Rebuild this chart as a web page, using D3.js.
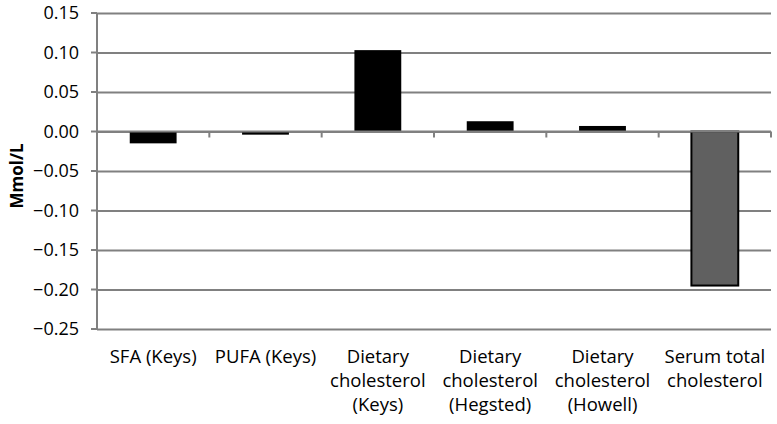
<!DOCTYPE html>
<html>
<head>
<meta charset="utf-8">
<script src="https://cdn.jsdelivr.net/npm/d3@7"></script>
<style>
  body { margin: 0; background: #fff; }
  text { font-family: "Open Sans", sans-serif; fill: #000; }
  .grid line { stroke: #808080; stroke-width: 2; }
  .grid .domain { display: none; }
</style>
</head>
<body>
<div id="chart-container"></div>
<script>
// data
const categories = [
    ["SFA (Keys)"],
    ["PUFA (Keys)"],
    ["Dietary", "cholesterol", "(Keys)"],
    ["Dietary", "cholesterol", "(Hegsted)"],
    ["Dietary", "cholesterol", "(Howell)"],
    ["Serum total", "cholesterol"]
];
const values = [-0.015, -0.004, 0.103, 0.013, 0.007, -0.195];
const barColors = ["#000", "#000", "#000", "#000", "#000", "#606060"];
const yTicks = [0.15, 0.10, 0.05, 0.00, -0.05, -0.10, -0.15, -0.20, -0.25];

const width = 777, height = 424;
const plotLeft = 97, plotRight = 771, plotTop = 13, plotBottom = 329;

const svg = d3.select("#chart-container")
    .append("svg")
    .attr("width", width)
    .attr("height", height);

const xAxis = d3.scaleBand()
    .range([plotLeft, plotRight])
    .domain(d3.range(categories.length))
    .paddingInner(0.583)
    .paddingOuter(0.2915);

const band = d3.scaleBand()   // full category slots, for tick marks
    .range([plotLeft, plotRight])
    .domain(d3.range(categories.length));

const yAxis = d3.scaleLinear()
    .range([plotBottom, plotTop])
    .domain([-0.25, 0.15]);

// horizontal grid lines
svg.append("g")
    .attr("class", "grid")
    .attr("transform", `translate(${plotLeft}, 0)`)
    .call(d3.axisLeft(yAxis)
        .tickValues(yTicks)
        .tickSize(-(plotRight - plotLeft))
        .tickFormat(""));

// y tick marks
svg.append("g")
    .selectAll("line")
    .data(yTicks)
    .enter()
    .append("line")
    .attr("x1", plotLeft - 6)
    .attr("x2", plotLeft)
    .attr("y1", d => yAxis(d))
    .attr("y2", d => yAxis(d))
    .attr("stroke", "#808080")
    .attr("stroke-width", 2);

// y tick labels
svg.append("g")
    .selectAll("text")
    .data(yTicks)
    .enter()
    .append("text")
    .attr("x", 79)
    .attr("y", d => yAxis(d))
    .attr("dy", "0.35em")
    .attr("text-anchor", "end")
    .style("font-size", "18px")
    .text(d => d3.format(".2f")(d));

// y axis line
svg.append("line")
    .attr("x1", plotLeft).attr("x2", plotLeft)
    .attr("y1", plotTop).attr("y2", plotBottom)
    .attr("stroke", "#808080")
    .attr("stroke-width", 2);

// bars
svg.selectAll(".bar")
    .data(values)
    .enter()
    .append("rect")
    .attr("class", "bar")
    .attr("x", (d, i) => xAxis(i))
    .attr("y", d => yAxis(Math.max(0, d)))
    .attr("width", xAxis.bandwidth())
    .attr("height", d => Math.abs(yAxis(d) - yAxis(0)))
    .attr("fill", (d, i) => barColors[i])
    .attr("stroke", "#000")
    .attr("stroke-width", (d, i) => i === 5 ? 2 : 0);

// zero axis line with category tick marks
const zeroY = yAxis(0);
svg.append("line")
    .attr("x1", plotLeft).attr("x2", plotRight)
    .attr("y1", zeroY).attr("y2", zeroY)
    .attr("stroke", "#808080")
    .attr("stroke-width", 2);

svg.append("g")
    .selectAll("line")
    .data(d3.range(1, categories.length + 1))
    .enter()
    .append("line")
    .attr("x1", i => i === categories.length ? plotRight : band(i))
    .attr("x2", i => i === categories.length ? plotRight : band(i))
    .attr("y1", zeroY)
    .attr("y2", zeroY + 6)
    .attr("stroke", "#808080")
    .attr("stroke-width", 2);

// category labels
const labels = svg.append("g")
    .selectAll("text")
    .data(categories)
    .enter()
    .append("text")
    .attr("text-anchor", "middle")
    .style("font-size", "18.5px")
    .attr("transform", (d, i) => `translate(${band(i) + band.bandwidth() / 2}, 363)`);

labels.selectAll("tspan")
    .data(d => d)
    .enter()
    .append("tspan")
    .attr("x", 0)
    .attr("y", (d, j) => j * 24)
    .text(d => d);

// y axis title
svg.append("text")
    .attr("x", -176)
    .attr("y", 23)
    .attr("transform", "rotate(-90)")
    .attr("text-anchor", "middle")
    .style("font-size", "17px")
    .style("font-weight", "bold")
    .text("Mmol/L");
</script>
</body>
</html>
